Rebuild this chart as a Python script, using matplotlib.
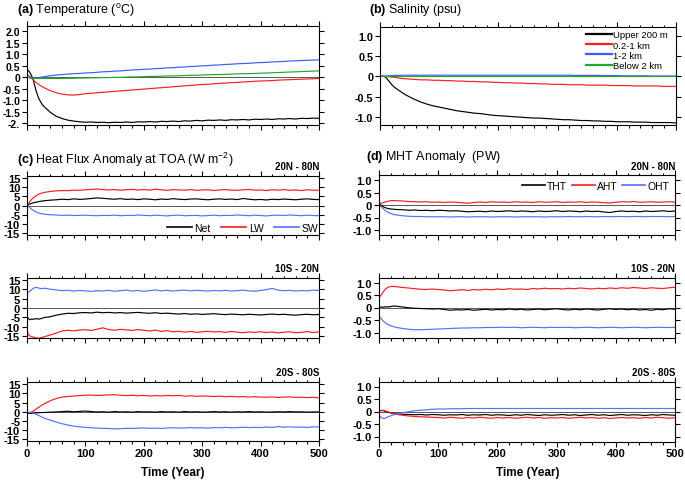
import matplotlib
matplotlib.use('Agg')
import matplotlib.pyplot as plt
from matplotlib.ticker import MultipleLocator, FixedLocator, NullLocator, NullFormatter

plt.rcParams['font.family'] = ['Liberation Sans', 'DejaVu Sans']
plt.rcParams['mathtext.fontset'] = 'custom'
plt.rcParams['mathtext.rm'] = 'Liberation Sans'
plt.rcParams['mathtext.bf'] = 'Liberation Sans:bold'
plt.rcParams['mathtext.default'] = 'regular'

# ---------------- data ----------------
T = [0, 2, 5, 8, 11, 15, 20, 25, 30,
     40, 50, 60, 70, 80, 90, 100,
     110, 120, 130, 140, 150, 160, 170, 180, 190, 200,
     210, 220, 230, 240, 250, 260, 270, 280, 290, 300,
     310, 320, 330, 340, 350, 360, 370, 380, 390, 400,
     410, 420, 430, 440, 450, 460, 470, 480, 490, 500]

X_TICKS = [0, 100, 200, 300, 400, 500]
X_TICK_LABELS = ['0', '100', '200', '300', '400', '500']

# (a) Temperature
A_TICKS = [2.0, 1.5, 1.0, 0.5, 0.0, -0.5, -1.0, -1.5, -2.0]
A_TICK_LABELS = ['2.0', '1.5', '1.0', '0.5', '0', '-0.5', '-1.0', '-1.5', '-2.']
a_upper = [0.25, 0.30, 0.20, 0.05, -0.15, -0.55, -0.92, -1.15, -1.30,
           -1.53, -1.70, -1.80, -1.87, -1.91, -1.94, -1.96,
           -1.95, -1.97, -1.96, -1.98, -1.96, -1.97, -1.95, -1.97, -1.94, -1.95,
           -1.93, -1.95, -1.92, -1.93, -1.91, -1.93, -1.90, -1.91, -1.88, -1.90,
           -1.87, -1.88, -1.86, -1.88, -1.85, -1.86, -1.84, -1.86, -1.83, -1.84,
           -1.82, -1.84, -1.81, -1.82, -1.80, -1.82, -1.79, -1.80, -1.78, -1.79]
a_mid = [0.10, 0.08, 0.02, -0.05, -0.13, -0.22, -0.32, -0.40, -0.47,
         -0.59, -0.68, -0.74, -0.77, -0.78, -0.76, -0.72,
         -0.70, -0.68, -0.66, -0.64, -0.62, -0.60, -0.58, -0.56, -0.54, -0.52,
         -0.50, -0.48, -0.46, -0.44, -0.42, -0.40, -0.38, -0.36, -0.34, -0.32,
         -0.31, -0.29, -0.27, -0.26, -0.24, -0.23, -0.21, -0.20, -0.18, -0.17,
         -0.16, -0.15, -0.13, -0.12, -0.11, -0.10, -0.09, -0.08, -0.07, -0.06]
a_deep1 = [0.0, -0.01, -0.03, -0.05, -0.05, -0.04, -0.02, 0.0, 0.02,
           0.06, 0.09, 0.11, 0.13, 0.15, 0.16, 0.18,
           0.19, 0.21, 0.23, 0.24, 0.26, 0.27, 0.29, 0.31, 0.32, 0.34,
           0.35, 0.37, 0.38, 0.40, 0.41, 0.43, 0.44, 0.46, 0.47, 0.49,
           0.50, 0.52, 0.53, 0.55, 0.56, 0.58, 0.59, 0.60, 0.62, 0.63,
           0.64, 0.66, 0.67, 0.68, 0.70, 0.71, 0.72, 0.73, 0.74, 0.75]
a_deep2 = [0.0, -0.01, -0.03, -0.04, -0.05, -0.06, -0.06, -0.06, -0.06,
           -0.06, -0.06, -0.06, -0.05, -0.05, -0.04, -0.04,
           -0.03, -0.03, -0.02, -0.02, -0.01, -0.01, 0.0, 0.01, 0.01, 0.02,
           0.03, 0.03, 0.04, 0.05, 0.05, 0.06, 0.07, 0.08, 0.08, 0.09,
           0.10, 0.11, 0.11, 0.12, 0.13, 0.14, 0.15, 0.15, 0.16, 0.17,
           0.18, 0.19, 0.20, 0.21, 0.22, 0.23, 0.24, 0.25, 0.26, 0.27]

# (b) Salinity
B_TICKS = [1.0, 0.5, 0.0, -0.5, -1.0]
B_TICK_LABELS = ['1.0', '0.5', '0', '-0.5', '-1.0']
B_LABELS = ['Upper 200 m', '0.2-1 km', '1-2 km', 'Below 2 km']
b_upper = [0.0, 0.0, 0.0, -0.01, -0.05, -0.12, -0.21, -0.28, -0.33,
           -0.43, -0.51, -0.58, -0.64, -0.69, -0.73, -0.76,
           -0.79, -0.82, -0.85, -0.87, -0.89, -0.91, -0.92, -0.94, -0.96, -0.97,
           -0.98, -0.99, -1.00, -1.01, -1.02, -1.03, -1.03, -1.04, -1.05, -1.06,
           -1.07, -1.07, -1.08, -1.09, -1.09, -1.10, -1.10, -1.11, -1.11, -1.12,
           -1.12, -1.12, -1.13, -1.13, -1.13, -1.14, -1.14, -1.14, -1.14, -1.15]
b_mid = [0.0, 0.0, 0.0, 0.0, -0.01, -0.01, -0.02, -0.03, -0.04,
         -0.06, -0.07, -0.08, -0.09, -0.09, -0.10, -0.10,
         -0.11, -0.11, -0.12, -0.12, -0.13, -0.13, -0.14, -0.14, -0.15, -0.15,
         -0.16, -0.16, -0.17, -0.17, -0.18, -0.18, -0.19, -0.19, -0.20, -0.20,
         -0.20, -0.21, -0.21, -0.21, -0.22, -0.22, -0.22, -0.22, -0.23, -0.23,
         -0.23, -0.23, -0.24, -0.24, -0.24, -0.24, -0.24, -0.25, -0.25, -0.25]
b_deep1 = [0.0, 0.0, 0.0, 0.0, 0.005, 0.01, 0.015, 0.02, 0.02,
           0.025, 0.025, 0.025, 0.025, 0.025, 0.025, 0.025,
           0.025, 0.025, 0.025, 0.025, 0.025, 0.025, 0.025, 0.025, 0.025, 0.025,
           0.025, 0.025, 0.025, 0.025, 0.025, 0.025, 0.025, 0.025, 0.025, 0.025,
           0.025, 0.025, 0.02, 0.02, 0.02, 0.02, 0.02, 0.015, 0.015, 0.015,
           0.01, 0.01, 0.01, 0.01, 0.01, 0.005, 0.005, 0.005, 0.005, 0.005]
b_deep2 = [0.0, 0.0, 0.0, 0.0, 0.0, 0.0, 0.0, 0.0, 0.0,
           0.0, 0.0, 0.0, 0.0, 0.0, 0.0, 0.0,
           0.0, 0.0, 0.0, 0.0, 0.0, 0.0, 0.0, 0.0, 0.0, 0.0,
           0.0, 0.0, 0.0, 0.0, 0.0, 0.0, 0.0, 0.0, 0.0, 0.0,
           0.0, 0.0, 0.0, 0.0, 0.0, 0.0, 0.0, 0.0, 0.0, 0.0,
           0.0, 0.0, 0.0, 0.0, 0.0, 0.0, 0.0, 0.0, 0.0, 0.0]

# (c) TOA heat flux anomaly
C_TICKS = [15, 10, 5, 0, -5, -10, -15]
C_TICK_LABELS = ['15', '10', '5', '0', '-5', '-10', '-15']
C_LABELS = ['Net', 'LW', 'SW']
REGIONS = ['20N - 80N', '10S - 20N', '20S - 80S']

c1_net = [0.0, 0.3, 0.8, 1.2, 1.5, 1.8, 2.1, 2.4, 2.6,
          2.9, 3.1, 3.4, 3.2, 3.6, 3.3, 3.5,
          3.8, 4.1, 3.9, 3.6, 3.4, 3.7, 3.3, 3.5, 3.2, 3.6,
          3.4, 3.1, 3.5, 3.3, 3.7, 3.4, 3.2, 3.5, 3.6, 3.3,
          3.1, 3.4, 3.6, 3.3, 3.5, 3.2, 3.8, 3.4, 3.1, 3.3,
          3.0, 3.4, 3.2, 3.5, 3.3, 3.1, 3.4, 3.6, 3.3, 3.2]
c1_lw = [0.0, 0.8, 2.2, 3.3, 4.2, 5.2, 6.1, 6.7, 7.1,
         7.6, 7.9, 8.1, 8.0, 8.3, 8.2, 8.5,
         8.7, 8.9, 8.6, 8.4, 8.6, 8.3, 8.5, 8.7, 8.4, 8.6,
         8.3, 8.8, 8.5, 8.2, 8.6, 8.4, 8.3, 8.6, 8.2, 8.4,
         8.5, 8.1, 8.4, 8.6, 8.3, 8.2, 8.5, 8.7, 8.3, 8.4,
         8.1, 8.5, 8.3, 8.6, 8.2, 8.4, 8.1, 8.5, 8.3, 8.2]
c1_sw = [0.0, -0.4, -1.2, -2.0, -2.7, -3.4, -4.0, -4.4, -4.7,
         -5.0, -5.1, -5.3, -5.2, -5.4, -5.3, -5.2,
         -5.4, -5.5, -5.3, -5.4, -5.2, -5.5, -5.3, -5.4, -5.1, -5.3,
         -5.5, -5.2, -5.4, -5.6, -5.3, -5.2, -5.5, -5.4, -5.3, -5.6,
         -5.4, -5.2, -5.5, -5.3, -5.4, -5.1, -5.3, -5.5, -5.2, -5.4,
         -5.6, -5.3, -5.2, -5.4, -5.1, -5.3, -5.5, -5.2, -5.4, -5.5]

c2_net = [-4.0, -5.5, -6.2, -5.8, -6.0, -5.6, -5.9, -5.5, -5.0,
          -4.6, -3.8, -3.2, -2.8, -2.9, -2.5, -2.4,
          -2.6, -2.2, -2.5, -2.3, -2.6, -2.4, -2.7, -2.5, -2.3, -2.6,
          -2.8, -2.5, -2.9, -2.7, -3.0, -3.2, -2.9, -3.3, -3.1, -3.4,
          -3.2, -3.0, -3.3, -3.5, -3.2, -3.4, -3.6, -3.3, -3.5, -3.7,
          -3.4, -3.2, -3.5, -3.3, -3.6, -3.8, -3.5, -3.3, -3.6, -3.4]
c2_lw = [-11.0, -14.0, -14.8, -15.2, -15.4, -15.8, -16.0, -15.7, -15.2,
         -14.3, -13.3, -12.2, -11.8, -12.1, -11.7, -11.5,
         -11.9, -11.2, -10.5, -11.4, -11.8, -11.3, -11.6, -11.9, -11.4, -11.8,
         -12.2, -11.7, -12.4, -12.0, -12.6, -12.3, -12.8, -12.4, -12.9, -12.6,
         -12.3, -12.7, -12.5, -12.9, -12.4, -12.8, -13.1, -12.7, -12.9, -12.6,
         -13.0, -12.7, -13.2, -12.8, -12.6, -13.1, -12.9, -12.5, -13.0, -12.6]
c2_sw = [8.5, 8.3, 9.0, 9.8, 10.5, 11.0, 10.6, 10.3, 10.5,
         10.0, 9.6, 9.2, 9.4, 9.0, 9.3, 9.1,
         8.8, 9.2, 9.0, 9.4, 8.9, 9.2, 9.5, 9.0, 9.3, 8.9,
         9.2, 9.6, 9.1, 9.4, 9.0, 9.3, 9.5, 9.1, 9.4, 9.2,
         9.0, 9.3, 9.1, 9.4, 9.0, 9.2, 9.5, 9.1, 8.9, 9.3,
         9.8, 10.4, 9.5, 9.2, 9.4, 9.0, 9.3, 9.1, 9.5, 9.3]

c3_net = [-1.0, -0.9, -0.8, -0.9, -0.7, -0.6, -0.5, -0.4, -0.4,
          -0.2, -0.1, 0.1, 0.3, 0.0, 0.2, 0.4,
          0.1, -0.1, 0.0, -0.2, 0.1, -0.1, 0.0, -0.2, 0.1, -0.1,
          0.0, -0.2, 0.1, -0.1, 0.0, -0.2, 0.1, -0.1, 0.0, -0.2,
          -0.1, 0.1, -0.1, 0.0, -0.2, 0.0, -0.1, 0.1, -0.1, 0.0,
          -0.2, -0.1, 0.0, -0.1, 0.1, -0.1, 0.0, -0.2, -0.1, -0.1]
c3_lw = [-0.5, -0.4, -0.3, -0.1, 0.4, 1.3, 2.4, 3.5, 4.4,
         6.0, 7.2, 8.0, 8.3, 8.6, 8.8, 9.0,
         9.1, 8.9, 9.0, 9.2, 9.3, 9.0, 8.8, 9.0, 8.7, 8.9,
         8.6, 8.8, 8.6, 8.9, 8.7, 8.9, 8.5, 8.7, 8.4, 8.6,
         8.5, 8.3, 8.5, 8.2, 8.4, 8.1, 8.3, 8.0, 8.2, 8.0,
         7.9, 8.1, 7.8, 8.0, 8.1, 7.8, 7.9, 7.7, 7.9, 7.5]
c3_sw = [-0.5, -0.5, -0.4, -0.5, -0.7, -1.2, -2.0, -2.8, -3.5,
         -4.6, -5.6, -6.5, -7.2, -7.8, -8.2, -8.5,
         -8.7, -8.9, -9.0, -9.1, -9.3, -9.2, -9.0, -9.1, -8.9, -8.8,
         -9.0, -8.9, -9.1, -8.8, -8.7, -8.9, -8.8, -8.6, -8.8, -8.7,
         -8.9, -8.6, -8.7, -8.5, -8.7, -8.6, -8.4, -8.6, -8.5, -8.6,
         -8.3, -8.5, -8.1, -8.4, -8.2, -8.4, -8.3, -8.5, -8.2, -8.2]

# (d) MHT anomaly
D_TICKS = [1.0, 0.5, 0.0, -0.5, -1.0]
D_TICK_LABELS = ['1.0', '0.5', '0', '-0.5', '-1.0']
D_LABELS = ['THT', 'AHT', 'OHT']

d1_tht = [0.05, 0.02, -0.03, -0.08, -0.11, -0.14, -0.16, -0.17, -0.18,
          -0.19, -0.21, -0.20, -0.22, -0.21, -0.23, -0.21,
          -0.22, -0.24, -0.23, -0.25, -0.27, -0.26, -0.25, -0.27, -0.24, -0.26,
          -0.25, -0.23, -0.26, -0.24, -0.25, -0.27, -0.24, -0.26, -0.25, -0.23,
          -0.26, -0.24, -0.25, -0.27, -0.24, -0.26, -0.25, -0.28, -0.30, -0.26,
          -0.24, -0.26, -0.25, -0.27, -0.24, -0.26, -0.25, -0.23, -0.26, -0.24]
d1_aht = [0.06, 0.07, 0.08, 0.10, 0.12, 0.15, 0.17, 0.18, 0.17,
          0.16, 0.14, 0.13, 0.12, 0.13, 0.11, 0.12,
          0.10, 0.12, 0.11, 0.09, 0.07, 0.10, 0.12, 0.10, 0.13, 0.11,
          0.12, 0.10, 0.13, 0.11, 0.12, 0.10, 0.13, 0.11, 0.12, 0.13,
          0.10, 0.12, 0.11, 0.13, 0.10, 0.12, 0.11, 0.09, 0.08, 0.11,
          0.13, 0.12, 0.14, 0.11, 0.12, 0.13, 0.11, 0.12, 0.13, 0.12]
d1_oht = [0.0, -0.04, -0.10, -0.17, -0.23, -0.29, -0.34, -0.38, -0.40,
          -0.43, -0.45, -0.46, -0.46, -0.47, -0.47, -0.47,
          -0.47, -0.48, -0.47, -0.47, -0.48, -0.47, -0.47, -0.47, -0.48, -0.47,
          -0.47, -0.47, -0.48, -0.47, -0.47, -0.47, -0.47, -0.48, -0.47, -0.47,
          -0.47, -0.46, -0.47, -0.47, -0.46, -0.47, -0.47, -0.46, -0.47, -0.46,
          -0.46, -0.47, -0.46, -0.46, -0.47, -0.46, -0.46, -0.46, -0.47, -0.46]

d2_tht = [0.0, 0.01, 0.02, 0.01, 0.03, 0.02, 0.04, 0.06, 0.05,
          0.02, -0.01, -0.03, -0.04, -0.05, -0.06, -0.05,
          -0.08, -0.11, -0.09, -0.10, -0.08, -0.11, -0.09, -0.07, -0.10, -0.08,
          -0.09, -0.06, -0.09, -0.07, -0.10, -0.08, -0.06, -0.09, -0.07, -0.05,
          -0.08, -0.10, -0.07, -0.09, -0.06, -0.08, -0.10, -0.07, -0.05, -0.08,
          -0.06, -0.09, -0.07, -0.10, -0.08, -0.11, -0.07, -0.09, -0.05, -0.07]
d2_aht = [0.38, 0.45, 0.55, 0.65, 0.74, 0.81, 0.84, 0.84, 0.83,
          0.80, 0.78, 0.75, 0.73, 0.72, 0.74, 0.72,
          0.70, 0.67, 0.69, 0.71, 0.68, 0.72, 0.70, 0.73, 0.71, 0.74,
          0.72, 0.75, 0.73, 0.74, 0.72, 0.76, 0.74, 0.77, 0.75, 0.76,
          0.74, 0.77, 0.75, 0.78, 0.76, 0.74, 0.77, 0.75, 0.78, 0.76,
          0.79, 0.77, 0.80, 0.78, 0.76, 0.79, 0.77, 0.76, 0.79, 0.81]
d2_oht = [-0.37, -0.40, -0.48, -0.56, -0.62, -0.68, -0.73, -0.77, -0.80,
          -0.84, -0.87, -0.89, -0.89, -0.88, -0.87, -0.86,
          -0.85, -0.84, -0.83, -0.82, -0.82, -0.81, -0.81, -0.80, -0.80, -0.80,
          -0.79, -0.80, -0.79, -0.81, -0.80, -0.79, -0.80, -0.81, -0.79, -0.80,
          -0.80, -0.79, -0.81, -0.80, -0.79, -0.80, -0.81, -0.80, -0.79, -0.80,
          -0.81, -0.80, -0.79, -0.80, -0.81, -0.80, -0.79, -0.80, -0.80, -0.79]

d3_tht = [0.03, 0.04, 0.04, 0.03, 0.0, -0.03, -0.06, -0.08, -0.10,
          -0.11, -0.12, -0.13, -0.12, -0.14, -0.12, -0.13,
          -0.15, -0.13, -0.14, -0.12, -0.15, -0.13, -0.14, -0.12, -0.15, -0.13,
          -0.14, -0.16, -0.13, -0.15, -0.12, -0.14, -0.16, -0.13, -0.15, -0.14,
          -0.12, -0.15, -0.13, -0.16, -0.14, -0.12, -0.15, -0.13, -0.16, -0.14,
          -0.12, -0.15, -0.13, -0.14, -0.16, -0.13, -0.15, -0.12, -0.14, -0.15]
d3_aht = [0.0, 0.02, 0.05, 0.04, 0.02, -0.01, -0.05, -0.09, -0.12,
          -0.15, -0.18, -0.20, -0.21, -0.22, -0.23, -0.24,
          -0.26, -0.23, -0.25, -0.27, -0.24, -0.26, -0.23, -0.25, -0.27, -0.24,
          -0.26, -0.24, -0.27, -0.25, -0.23, -0.26, -0.24, -0.27, -0.25, -0.26,
          -0.24, -0.27, -0.25, -0.23, -0.26, -0.24, -0.27, -0.25, -0.28, -0.26,
          -0.24, -0.26, -0.25, -0.27, -0.24, -0.26, -0.23, -0.25, -0.27, -0.25]
d3_oht = [-0.10, -0.20, -0.26, -0.28, -0.26, -0.22, -0.17, -0.13, -0.10,
          -0.05, -0.01, 0.03, 0.05, 0.07, 0.09, 0.10,
          0.10, 0.11, 0.11, 0.11, 0.12, 0.12, 0.12, 0.12, 0.12, 0.12,
          0.12, 0.12, 0.12, 0.12, 0.12, 0.12, 0.12, 0.12, 0.12, 0.12,
          0.12, 0.12, 0.12, 0.12, 0.12, 0.12, 0.12, 0.12, 0.12, 0.12,
          0.12, 0.12, 0.12, 0.12, 0.12, 0.12, 0.12, 0.12, 0.12, 0.12]

# ---------------- styling ----------------
BLACK = '#000000'
RED = '#ff1c1c'
BLUE = '#3a5cff'
LBLUE = '#4f72ff'
GREEN = '#1fa82a'
LW = 0.85

W, H = 685, 481
fig = plt.figure(figsize=(W / 100, H / 100), dpi=100)


def add_ax(x0, y0, x1, y1):
    return fig.add_axes([x0 / W, 1 - y1 / H, (x1 - x0) / W, (y1 - y0) / H])


def style(ax, ylim, yticks, ylabels, xlabels=False, ysize=7.5):
    ax.set_xlim(0, 500)
    ax.set_ylim(*ylim)
    ax.xaxis.set_major_locator(FixedLocator(X_TICKS))
    ax.xaxis.set_minor_locator(MultipleLocator(20))
    ax.yaxis.set_minor_locator(NullLocator())
    ax.set_yticks(yticks)
    ax.set_yticklabels(ylabels, fontweight='bold', fontsize=ysize)
    if xlabels:
        ax.set_xticklabels(X_TICK_LABELS, fontweight='bold', fontsize=8)
    else:
        ax.xaxis.set_major_formatter(NullFormatter())
    ax.tick_params(which='both', direction='out', top=True, right=True,
                   width=0.8, pad=1.5, colors='black')
    ax.tick_params(which='major', length=3.4)
    ax.tick_params(which='minor', length=1.8)
    for s in ax.spines.values():
        s.set_linewidth(0.8)
    ax.axhline(0, color='#555555', lw=0.7, zorder=1)


def plot_series(ax, series, colors):
    lines = []
    for s, c in zip(series, colors):
        ln, = ax.plot(T, s, color=c, lw=LW, zorder=2)
        lines.append(ln)
    return lines


# (a)
ax_a = add_ax(27, 27, 319, 126)
plot_series(ax_a, [a_upper, a_mid, a_deep1, a_deep2], [BLACK, RED, BLUE, GREEN])
style(ax_a, (-2.08, 2.22), A_TICKS, A_TICK_LABELS)

# (b)
ax_b = add_ax(380, 28, 676, 126)
lines_b = plot_series(ax_b, [b_upper, b_mid, b_deep1, b_deep2], [BLACK, RED, BLUE, GREEN])
style(ax_b, (-1.2, 1.21), B_TICKS, B_TICK_LABELS, ysize=7.8)
leg = ax_b.legend(lines_b, B_LABELS, loc='upper left',
                  bbox_to_anchor=(586 / W, 1 - 31.5 / H), bbox_transform=fig.transFigure,
                  frameon=False, fontsize=6.8, handlelength=2.7, handletextpad=0.2,
                  labelspacing=0.12, borderpad=0, borderaxespad=0)
for l in leg.get_lines():
    l.set_linewidth(1.6)

# (c)
c_frames = [(176.5, 236), (278.5, 339), (383, 442)]
c_data = [(c1_net, c1_lw, c1_sw), (c2_net, c2_lw, c2_sw), (c3_net, c3_lw, c3_sw)]
c_axes = []
for i, ((y0, y1), dat) in enumerate(zip(c_frames, c_data)):
    ax = add_ax(27, y0, 319, y1)
    ls = plot_series(ax, list(dat), [BLACK, RED, LBLUE])
    style(ax, (-15.9, 16.2), C_TICKS, C_TICK_LABELS, xlabels=(i == 2), ysize=8)
    fig.text(319 / W, 1 - (y0 - 9.5) / H, REGIONS[i], ha='right', va='center',
             fontsize=7, fontweight='bold')
    c_axes.append((ax, ls))
ax, ls = c_axes[0]
leg = ax.legend(ls, C_LABELS, loc='center left', ncol=3,
                bbox_to_anchor=(167 / W, 1 - 229 / H), bbox_transform=fig.transFigure,
                frameon=False, fontsize=7.5, handlelength=2.4, handletextpad=0.25,
                columnspacing=1.0, borderpad=0, borderaxespad=0)
for l in leg.get_lines():
    l.set_linewidth(1.2)

# (d)
d_frames = [(176, 236), (278.5, 338.5), (382.5, 442.5)]
d_data = [(d1_tht, d1_aht, d1_oht), (d2_tht, d2_aht, d2_oht), (d3_tht, d3_aht, d3_oht)]
d_axes = []
for i, ((y0, y1), dat) in enumerate(zip(d_frames, d_data)):
    ax = add_ax(379, y0, 675, y1)
    ls = plot_series(ax, list(dat), [BLACK, RED, LBLUE])
    style(ax, (-1.2, 1.2), D_TICKS, D_TICK_LABELS, xlabels=(i == 2), ysize=8)
    fig.text(675 / W, 1 - (y0 - 9.5) / H, REGIONS[i], ha='right', va='center',
             fontsize=7, fontweight='bold')
    d_axes.append((ax, ls))
ax, ls = d_axes[0]
leg = ax.legend(ls, D_LABELS, loc='center left', ncol=3,
                bbox_to_anchor=(522 / W, 1 - 186.5 / H), bbox_transform=fig.transFigure,
                frameon=False, fontsize=7.5, handlelength=2.2, handletextpad=0.2,
                columnspacing=0.45, borderpad=0, borderaxespad=0)
for l in leg.get_lines():
    l.set_linewidth(1.2)

# titles
fig.text(17 / W, 1 - 10.5 / H, r'$\bf{(a)}$ Temperature ($^{o}$C)', ha='left', va='center', fontsize=9)
fig.text(369 / W, 1 - 10.5 / H, r'$\bf{(b)}$ Salinity (psu)', ha='left', va='center', fontsize=9)
fig.text(17 / W, 1 - 160 / H, r'$\bf{(c)}$ Heat Flux Anomaly at TOA (W m$^{-2}$)', ha='left', va='center', fontsize=9)
fig.text(366 / W, 1 - 157 / H, r'$\bf{(d)}$ MHT Anomaly  (PW)', ha='left', va='center', fontsize=9)

fig.text(173 / W, 1 - 473.5 / H, 'Time (Year)', ha='center', va='center', fontsize=8.5, fontweight='bold')
fig.text(528 / W, 1 - 473.5 / H, 'Time (Year)', ha='center', va='center', fontsize=8.5, fontweight='bold')

fig.savefig('out.png', dpi=100)
